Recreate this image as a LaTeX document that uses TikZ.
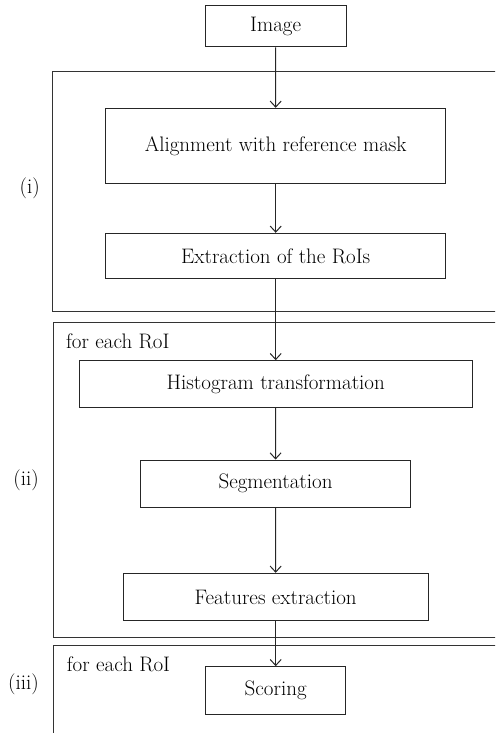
\documentclass[tikz,border=0pt]{standalone}
\usetikzlibrary{arrows.meta}
\begin{document}
\begin{tikzpicture}[x=1pt,y=-1pt,
  every node/.style={font=\fontsize{21}{25}\selectfont},
  stepbox/.style={draw=black!85,line width=1pt,inner sep=0pt,anchor=center},
  frameline/.style={draw=black!80,line width=1pt},
  flow/.style={draw=black!85,line width=1pt,-{Straight Barb[length=6pt,width=11pt,line width=1pt]}},
  lbl/.style={anchor=base east,inner sep=0pt},
  each/.style={anchor=base west,inner sep=0pt}]
\useasboundingbox (0,0) rectangle (495,733);
\clip (0,0) rectangle (495,733);
% frames
\draw[frameline] (500,71.7) -- (52.7,71.7) -- (52.7,311.7) -- (500,311.7);
\draw[frameline] (500,322.3) -- (53.3,322.3) -- (53.3,637.7) -- (500,637.7);
\draw[frameline] (500,645.7) -- (53.3,645.7) -- (53.3,740);
% labels
\node[lbl] (li) at (40,193) {(i)};
\node[lbl] (lii) at (39,485.7) {(ii)};
\node[lbl] (liii) at (39,689.3) {(iii)};
\node[each] (e2) at (66,348.3) {for each RoI};
\node[each] (e3) at (66.7,671) {for each RoI};
% boxes
\node[stepbox,minimum width=141pt,minimum height=41pt] (img) at (275.6,26.5) {Image};
\node[stepbox,minimum width=340pt,minimum height=75pt] (align) at (275.7,145.8) {Alignment with reference mask};
\node[stepbox,minimum width=340pt,minimum height=45pt] (roi) at (275.7,255.8) {Extraction of the RoIs};
\node[stepbox,minimum width=393.3pt,minimum height=47pt] (hist) at (275.7,384.2) {Histogram transformation};
\node[stepbox,minimum width=269.6pt,minimum height=47.3pt] (seg) at (275.5,483.7) {Segmentation};
\node[stepbox,minimum width=304.7pt,minimum height=47.4pt] (feat) at (275.7,597) {Features extraction};
\node[stepbox,minimum width=140pt,minimum height=47.6pt] (score) at (275.7,690.5) {Scoring};
% connectors
\draw[flow] (img) -- (align);
\draw[flow] (align) -- (roi);
\draw[flow] (roi) -- (hist);
\draw[flow] (hist) -- (seg);
\draw[flow] (seg) -- (feat);
\draw[flow] (feat) -- (score);
\end{tikzpicture}
\end{document}
